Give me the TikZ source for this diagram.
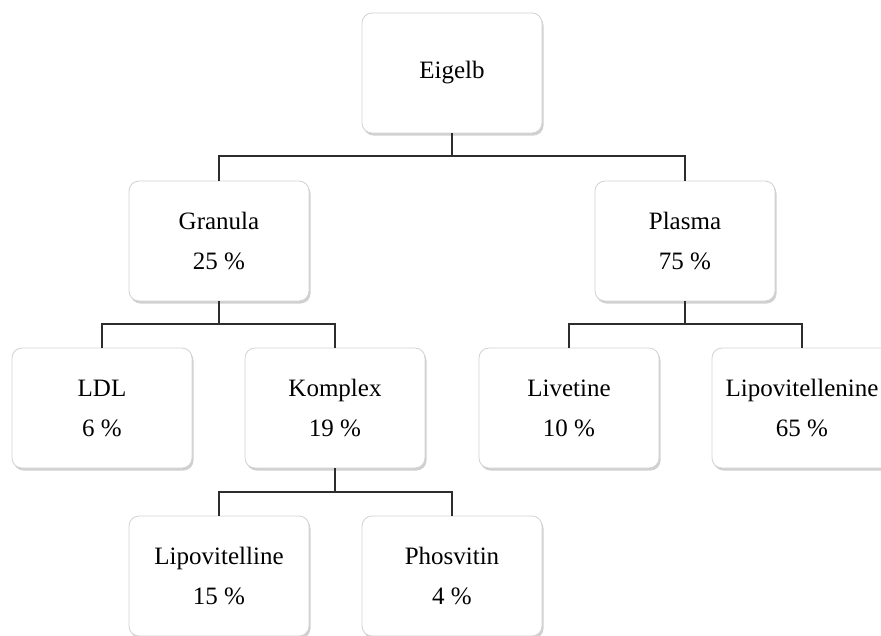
\documentclass[tikz,border=0pt]{standalone}
\usepackage{fontspec}
\setmainfont{Liberation Serif}
\usetikzlibrary{shadows}
\definecolor{boxline}{RGB}{210,210,210}
\definecolor{conn}{RGB}{45,45,45}
\tikzset{
  box/.style={draw=boxline, line width=0.8pt, fill=white, rounded corners=10pt,
    minimum width=180pt, minimum height=120pt, align=center,
    font=\fontsize{25}{40}\selectfont, text=black,
    drop shadow={shadow xshift=1.5pt, shadow yshift=-2.5pt, opacity=0.3, fill=black!60}},
  link/.style={draw=conn, line width=1.2pt}
}
\begin{document}
\begin{tikzpicture}[x=1pt,y=-1pt]
\useasboundingbox (0,0) rectangle (881,635);
\clip (0,0) rectangle (881,635);
\fill[white] (0,0) rectangle (881,635);
\node[box] (eig) at (452,73) {Eigelb};
\node[box] (gra) at (219,241) {Granula\\25 \%};
\node[box] (pla) at (685,241) {Plasma\\75 \%};
\node[box] (ldl) at (102,408) {LDL\\6 \%};
\node[box] (kom) at (335,408) {Komplex\\19 \%};
\node[box] (liv) at (569,408) {Livetine\\10 \%};
\node[box] (lpn) at (802,408) {Lipovitellenine\\65 \%};
\node[box] (lpl) at (219,576) {Lipovitelline\\15 \%};
\node[box] (pho) at (452,576) {Phosvitin\\4 \%};
\coordinate (j1) at (452,156);
\coordinate (j2) at (219,324);
\coordinate (j3) at (685,324);
\coordinate (j4) at (335,492);
\draw[link] (eig.south) -- (j1);
\draw[link] (j1) -| (gra.north);
\draw[link] (j1) -| (pla.north);
\draw[link] (gra.south) -- (j2);
\draw[link] (j2) -| (ldl.north);
\draw[link] (j2) -| (kom.north);
\draw[link] (pla.south) -- (j3);
\draw[link] (j3) -| (liv.north);
\draw[link] (j3) -| (lpn.north);
\draw[link] (kom.south) -- (j4);
\draw[link] (j4) -| (lpl.north);
\draw[link] (j4) -| (pho.north);
\end{tikzpicture}
\end{document}
